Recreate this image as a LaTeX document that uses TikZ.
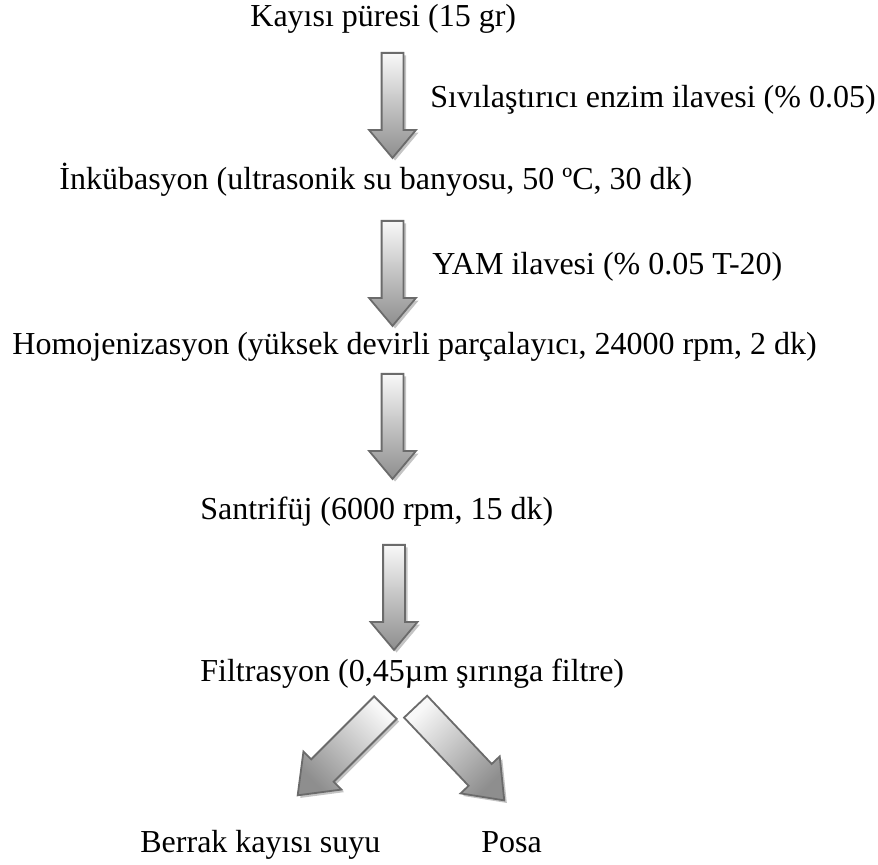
\documentclass[tikz,border=0pt]{standalone}
\usepackage{fontspec}
\setmainfont{Liberation Serif}
\usetikzlibrary{shapes.arrows,shadows}
\definecolor{arrowline}{HTML}{6B6B6B}
\definecolor{arrowtail}{HTML}{F8F8F8}
\definecolor{arrowtip}{HTML}{8E8E8E}
\definecolor{shadowgray}{HTML}{C4C4C4}

\tikzset{
  steptext/.style={anchor=base west, inner sep=0pt, font=\fontsize{16}{19}\selectfont},
  flowarrow/.style={single arrow, draw=arrowline, line width=0.9pt,
    top color=arrowtail, bottom color=arrowtip, inner xsep=0pt,
    single arrow head indent=0pt, anchor=tail,
    drop shadow={shadow xshift=1.3pt, shadow yshift=-1.3pt, fill=shadowgray, opacity=1}},
  downarrow/.style={flowarrow, rotate=-90, minimum height=52.5pt, inner ysep=5pt,
    minimum width=22.5pt, single arrow head extend=6.25pt, single arrow tip angle=80},
  splitarrow/.style={flowarrow, inner ysep=7.5pt, minimum width=26pt,
    single arrow head extend=5.5pt, single arrow tip angle=75}
}

\begin{document}
\begin{tikzpicture}[x=0.5pt, y=-0.5pt]
  \useasboundingbox (0,0) rectangle (878,865);

  % process steps
  \node[steptext] (puree) at (250,27) {Kayısı püresi (15 gr)};
  \node[steptext] (inkub) at (59,190) {İnkübasyon (ultrasonik su banyosu, 50 ºC, 30 dk)};
  \node[steptext] (homo) at (12,355) {Homojenizasyon (yüksek devirli parçalayıcı, 24000 rpm, 2 dk)};
  \node[steptext] (santri) at (200,520) {Santrifüj (6000 rpm, 15 dk)};
  \node[steptext] (filtre) at (200,682) {Filtrasyon (0,45µm şırınga filtre)};
  \node[steptext] (berrak) at (140,852) {Berrak kayısı suyu};
  \node[steptext] (posa) at (481,852) {Posa};

  % additions
  \node[steptext] (enzim) at (430,108) {Sıvılaştırıcı enzim ilavesi (\% 0.05)};
  \node[steptext] (yam) at (432,275) {YAM ilavesi (\% 0.05 T-20)};

  % block arrows
  \node[downarrow] (a1) at (392.5,52) {};
  \node[downarrow] (a2) at (392.5,220) {};
  \node[downarrow] (a3) at (392.5,373) {};
  \node[downarrow] (a4) at (394,544) {};
  \node[splitarrow, rotate=-135, minimum height=62pt, shading angle=-45] (aleft) at (386,707) {};
  \node[splitarrow, rotate=-46.6, minimum height=64.5pt, shading angle=45] (aright) at (415,706) {};
\end{tikzpicture}
\end{document}
